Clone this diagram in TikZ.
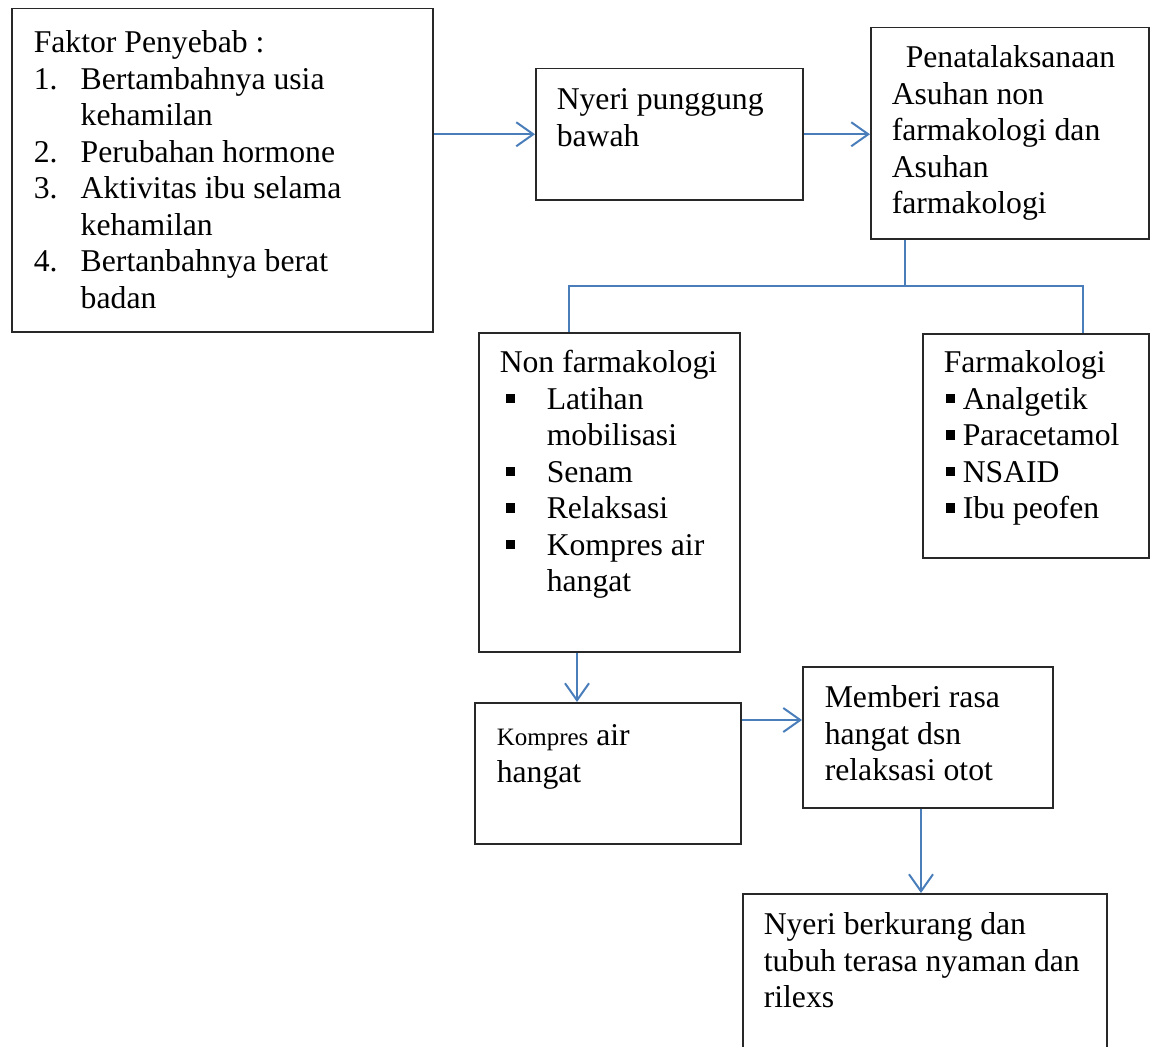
\documentclass[tikz,border=0pt]{standalone}
\usepackage{fontspec}
\setmainfont{Liberation Serif}
\usetikzlibrary{positioning,calc,arrows.meta}
\definecolor{linkblue}{RGB}{74,126,187}
\definecolor{boxline}{RGB}{40,40,40}

% text block inside a box: width, height, lines
\newcommand{\boxtext}[3]{\parbox[t][#2pt][t]{#1pt}{\raggedright\strut #3}}
\newcommand{\numitem}[1]{\makebox[47pt][l]{#1}}
\newcommand{\sqitem}[2]{\makebox[#1pt][l]{\hspace{#2pt}\rule[6pt]{9.5pt}{9.5pt}}}

\tikzset{
  flowbox/.style={draw=boxline, line width=1.5pt, anchor=north west, inner sep=0pt},
  link/.style={draw=linkblue, line width=2pt, -{Straight Barb[length=17pt,width=24pt]}},
  tree/.style={draw=linkblue, line width=2pt}
}

\begin{document}
\begin{tikzpicture}[x=1pt, y=-1pt, every node/.style={font=\fontsize{31.7}{36.5}\selectfont}]
  \useasboundingbox (0,0) rectangle (1150,1046);

  \node[flowbox, inner xsep=22pt, inner ysep=18.5pt] (faktor) at (11,8) {\boxtext{377}{286}{Faktor Penyebab :\\
    \numitem{1.}Bertambahnya usia\\ \hspace*{47pt}kehamilan\\
    \numitem{2.}Perubahan hormone\\
    \numitem{3.}Aktivitas ibu selama\\ \hspace*{47pt}kehamilan\\
    \numitem{4.}Bertanbahnya berat\\ \hspace*{47pt}badan}};

  \node[flowbox, inner xsep=21pt, inner ysep=15.5pt] (nyeri) at (535,68) {\boxtext{225}{100}{Nyeri punggung\\ bawah}};

  \node[flowbox, inner xsep=21pt, inner ysep=14.5pt] (pena) at (870,27) {\boxtext{236}{182}{\hspace*{14pt}Penatalaksanaan\\
    Asuhan non\\ farmakologi dan\\ Asuhan\\ farmakologi}};

  \node[flowbox, inner xsep=21pt, inner ysep=14.5pt] (nonfarm) at (478,332) {\boxtext{219}{290}{Non farmakologi\\
    \sqitem{47}{6}Latihan\\ \hspace*{47pt}mobilisasi\\
    \sqitem{47}{6}Senam\\
    \sqitem{47}{6}Relaksasi\\
    \sqitem{47}{6}Kompres air\\ \hspace*{47pt}hangat}};

  \node[flowbox, inner xsep=21pt, inner ysep=13.5pt] (farm) at (922,333) {\boxtext{184}{197}{Farmakologi\\
    \sqitem{19}{2}Analgetik\\
    \sqitem{19}{2}Paracetamol\\
    \sqitem{19}{2}NSAID\\
    \sqitem{19}{2}Ibu peofen}};

  \node[flowbox, inner xsep=22pt, inner ysep=17.5pt] (kompres) at (474,702) {\boxtext{222}{106}{{\fontsize{25}{36.5}\selectfont Kompres} air\\ hangat}};

  \node[flowbox, inner xsep=22pt, inner ysep=15.5pt] (memberi) at (802,666) {\boxtext{206}{110}{Memberi rasa\\ hangat dsn\\ relaksasi otot}};

  \node[flowbox, inner xsep=21pt, inner ysep=15.5pt] (hasil) at (742,893) {\boxtext{322}{136}{Nyeri berkurang dan\\ tubuh terasa nyaman dan\\ rilexs}};

  % connectors
  \draw[link] (faktor.east |- nyeri.west) -- (nyeri.west);
  \draw[link] (nyeri.east) -- (nyeri.east -| pena.west);

  \coordinate (split) at (905,286);
  \coordinate (leftdrop) at (569,286);
  \coordinate (rightdrop) at (1083,286);
  \draw[tree] (split |- pena.south) -- (split);
  \draw[tree] (leftdrop |- nonfarm.north) -- (leftdrop) -- (rightdrop) -- (rightdrop |- farm.north);

  \coordinate (downA) at (577,0);
  \draw[link] (downA |- nonfarm.south) -- (downA |- kompres.north);
  \coordinate (sideA) at (0,720);
  \draw[link] (sideA -| kompres.east) -- (sideA -| memberi.west);
  \coordinate (downB) at (921,0);
  \draw[link] (downB |- memberi.south) -- (downB |- hasil.north);
\end{tikzpicture}
\end{document}
